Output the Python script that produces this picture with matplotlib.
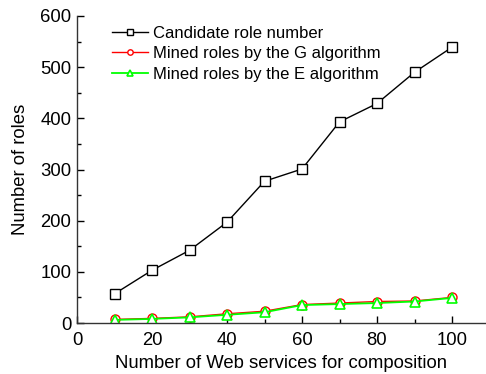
import matplotlib
matplotlib.use("Agg")
import matplotlib.pyplot as plt
from matplotlib.ticker import MultipleLocator

plt.rcParams['font.family'] = ['Liberation Sans', 'DejaVu Sans']

x = [10, 20, 30, 40, 50, 60, 70, 80, 90, 100]
candidate = [57, 103, 142, 197, 277, 301, 393, 429, 490, 539]
mined_g = [7, 9, 12, 18, 23, 36, 39, 42, 43, 50]
mined_e = [6, 8, 11, 16, 21, 35, 37, 39, 42, 49]

W, H = 486, 374
fig = plt.figure(figsize=(W/100, H/100), dpi=100)
ax = fig.add_axes([77/W, 51/H, (W-77-1)/W, (323-16)/H])

ax.plot(x, candidate, color='black', lw=1.0, marker='s', ms=6.5, mfc='white',
        mec='black', mew=1.0, label='Candidate role number')
ax.plot(x, mined_g, color='red', lw=1.0, marker='o', ms=6.5, mfc='white',
        mec='red', mew=1.0, label='Mined roles by the G algorithm')
ax.plot(x, mined_e, color='#00ff00', lw=1.3, marker='^', ms=7, mfc='white',
        mec='#00ff00', mew=1.2, label='Mined roles by the E algorithm')

ax.set_xlim(0, 108.8)
ax.set_ylim(0, 600)
ax.xaxis.set_major_locator(MultipleLocator(20))
ax.xaxis.set_minor_locator(MultipleLocator(10))
ax.yaxis.set_major_locator(MultipleLocator(100))
ax.yaxis.set_minor_locator(MultipleLocator(50))
ax.tick_params(which='both', direction='in', labelsize=13.3, top=False, right=False)
ax.tick_params(which='major', length=5, width=1)
ax.tick_params(which='minor', length=3, width=1)
ax.tick_params(axis='x', pad=6.5)
ax.tick_params(axis='y', pad=4)
for s in ['top', 'right']:
    ax.spines[s].set_visible(False)
for s in ['left', 'bottom']:
    ax.spines[s].set_linewidth(1.0)
    ax.spines[s].set_color('#333333')

ax.set_xlabel('Number of Web services for composition', fontsize=13.3, labelpad=4)
ax.set_ylabel('Number of roles', fontsize=13.3, labelpad=8)

ax.legend(loc='upper left', bbox_to_anchor=(112/W, 1 - 26/H),
          bbox_transform=fig.transFigure, frameon=False, fontsize=12,
          markerscale=0.6, handlelength=2.16, handletextpad=0.3, labelspacing=0.32,
          borderaxespad=0, borderpad=0)

fig.savefig('out.png', dpi=100)
